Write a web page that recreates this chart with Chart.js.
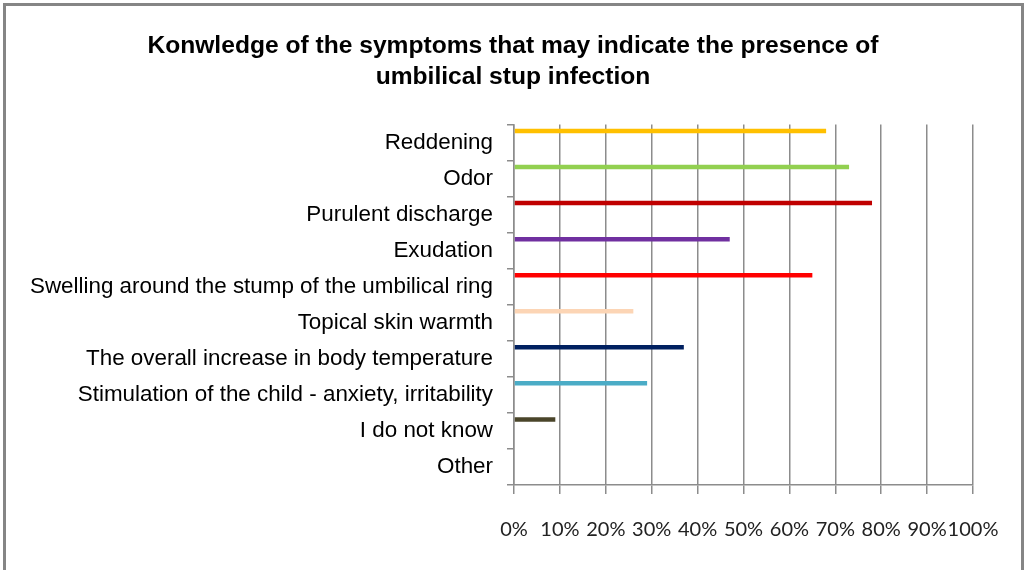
<!DOCTYPE html>
<html>
<head>
<meta charset="utf-8">
<script src="https://cdn.jsdelivr.net/npm/chart.js@4"></script>
<style>
    html, body { margin: 0; padding: 0; background: #fff; }
    #wrap { width: 1026px; height: 570px; }
</style>
</head>
<body>
<div id="wrap"><canvas id="symptomsChart" width="1026" height="570"></canvas></div>
<script>
// Categories (top to bottom)
const categories = [
    'Reddening',
    'Odor',
    'Purulent discharge',
    'Exudation',
    'Swelling around the stump of the umbilical ring',
    'Topical skin warmth',
    'The overall increase in body temperature',
    'Stimulation of the child - anxiety, irritability',
    'I do not know',
    'Other'
];

// Share of answers, in %
const values = [68, 73, 78, 47, 65, 26, 37, 29, 9, 0];

const barColors = [
    '#FFC000', '#92D050', '#C00000', '#7030A0', '#FF0000',
    '#FCD5B5', '#002060', '#4BACC6', '#4A452A', '#000000'
];

const xTicks = [0, 10, 20, 30, 40, 50, 60, 70, 80, 90, 100];

const titleLines = [
    'Konwledge of the symptoms that may indicate the presence of',
    'umbilical stup infection'
];

// the original draws each bar at the top of its band, like the first of a group
const spacers = [1, 2, 3, 4].map(() => ({ data: [], backgroundColor: 'transparent' }));

const framePlugin = {
    id: 'frame',
    afterLayout(chart) {
        // title is centred over the whole frame, not over the padded area
        chart.titleBlock.left = 53;
    },
    afterDraw(chart) {
        const c = chart.ctx;
        c.save();
        c.strokeStyle = '#858585';
        c.lineWidth = 3;
        c.strokeRect(4.5, 4.5, 1018, 620);
        c.restore();
    }
};

document.addEventListener("DOMContentLoaded", () => {
    const ctx = document.getElementById('symptomsChart').getContext('2d');

    new Chart(ctx, {
        type: 'bar',
        data: {
            labels: categories,
            datasets: [{
                data: values,
                backgroundColor: barColors,
                borderWidth: 0
            }, ...spacers]
        },
        options: {
            indexAxis: 'y',
            responsive: false,
            animation: false,
            categoryPercentage: 0.8,
            barPercentage: 0.78,
            layout: { padding: { top: 31, left: 10, right: 53, bottom: 4 } },
            plugins: {
                legend: { display: false },
                tooltip: { enabled: false },
                title: {
                    display: true,
                    text: titleLines,
                    color: '#000',
                    font: { family: 'Liberation Sans', size: 24.6, weight: 'bold', lineHeight: 1.25 },
                    padding: { top: 0, bottom: 32 }
                }
            },
            scales: {
                x: {
                    min: 0,
                    max: 100,
                    afterBuildTicks: (scale) => { scale.ticks = xTicks.map(v => ({ value: v })); },
                    ticks: {
                        callback: (v) => v + '%',
                        color: '#222',
                        padding: 24,
                        maxRotation: 0,
                        autoSkip: false,
                        font: { family: 'Lato', size: 20 }
                    },
                    grid: { color: '#8c8c8c', lineWidth: 1.5, tickLength: 9 },
                    border: { color: '#8c8c8c', width: 1.5 }
                },
                y: {
                    afterFit: (scale) => { scale.width = 504; },
                    ticks: {
                        color: '#000',
                        padding: 14,
                        autoSkip: false,
                        font: { family: 'Liberation Sans', size: 22.4 }
                    },
                    grid: { drawOnChartArea: false, color: '#8c8c8c', lineWidth: 1.5, tickLength: 7 },
                    border: { color: '#8c8c8c', width: 1.5 }
                }
            }
        },
        plugins: [framePlugin]
    });
});
</script>
</body>
</html>
